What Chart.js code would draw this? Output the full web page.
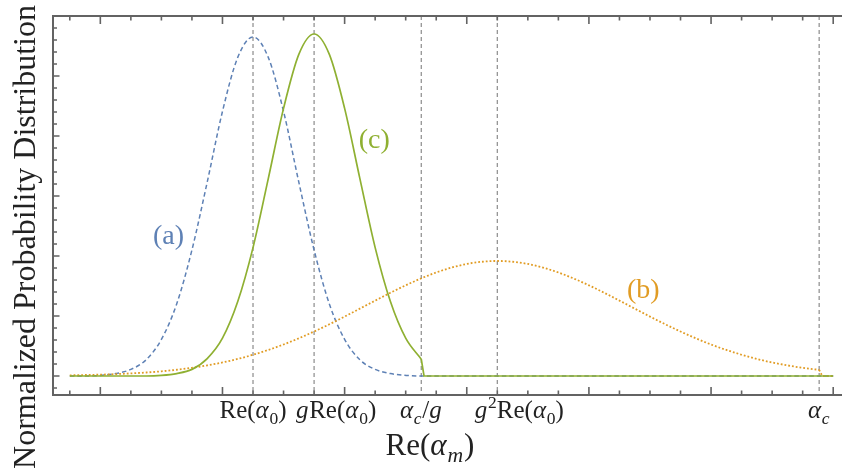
<!DOCTYPE html>
<html>
<head>
<meta charset="utf-8">
<script src="https://cdn.jsdelivr.net/npm/chart.js@4.4.0/dist/chart.umd.min.js"></script>
<style>
  html, body { margin: 0; padding: 0; background: #fff; overflow: hidden; width: 842px; height: 471px; }
  #wrap { width: 852px; height: 471px; }
</style>
</head>
<body>
<div id="wrap"><canvas id="c" width="852" height="471"></canvas></div>
<script>
// (a) distribution, Re(alpha_m) samples and normalized density
const aX = [-5, -4.5, -4, -3.5, -3, -2.5, -2, -1.5, -1, -0.5, 0, 0.5, 1, 1.5, 2, 2.5, 3, 3.5, 4, 4.5, 5, 5.5, 6, 6.5, 20];
const aY = [0, 0, 0.001, 0.004, 0.011, 0.027, 0.061, 0.120, 0.210, 0.323, 0.441, 0.531, 0.565, 0.531, 0.441, 0.323, 0.210, 0.120, 0.061, 0.027, 0.011, 0.004, 0.001, 0, 0];

// (b) distribution, cut off at alpha_c
const bX = [-5, -4.5, -4, -3.5, -3, -2.5, -2, -1.5, -1, -0.5, 0, 0.5, 1, 1.5, 2, 2.5, 3, 3.5, 4, 4.5, 5, 5.5, 6, 6.5, 7, 7.5, 8, 8.5, 9, 9.5, 10, 10.5, 11, 11.5, 12, 12.5, 13, 13.5, 14, 14.5, 15, 15.5, 16, 16.5, 17, 17.5, 18, 18.5, 19, 19.54, 19.64, 20];
const bY = [0.0011, 0.0016, 0.0022, 0.0031, 0.0043, 0.0058, 0.0078, 0.0104, 0.0136, 0.0177, 0.0225, 0.0284, 0.0354, 0.0434, 0.0525, 0.0628, 0.0741, 0.0862, 0.0990, 0.1123, 0.1256, 0.1387, 0.1511, 0.1625, 0.1725, 0.1806, 0.1867, 0.1904, 0.1917, 0.1904, 0.1867, 0.1806, 0.1725, 0.1625, 0.1511, 0.1387, 0.1256, 0.1123, 0.0990, 0.0862, 0.0741, 0.0628, 0.0525, 0.0434, 0.0354, 0.0284, 0.0225, 0.0177, 0.0136, 0.0102, 0, 0];

// (c) distribution, cut off at alpha_c / g
const cX = [-5, -2.5, -2, -1.5, -1, -0.5, 0, 0.5, 1, 1.5, 2, 2.5, 3, 3.5, 4, 4.5, 5, 5.5, 6, 6.51, 6.6, 20];
const cY = [0, 0, 0.001, 0.004, 0.011, 0.029, 0.063, 0.124, 0.214, 0.329, 0.446, 0.536, 0.570, 0.536, 0.446, 0.329, 0.214, 0.124, 0.063, 0.028, 0, 0];

// reference positions on the Re(alpha_m) axis and their labels
const markerValues = [1, 3, 6.51, 9, 19.54];
const markerLabels = [
  [{t: 'Re'}, {t: '('}, {t: 'α', it: true}, {t: '0', sub: true}, {t: ')'}],
  [{t: 'g', it: true}, {t: 'Re'}, {t: '('}, {t: 'α', it: true}, {t: '0', sub: true}, {t: ')'}],
  [{t: 'α', it: true}, {t: 'c', it: true, sub: true}, {t: '/'}, {t: 'g', it: true}],
  [{t: 'g', it: true}, {t: '2', sup: true}, {t: 'Re'}, {t: '('}, {t: 'α', it: true}, {t: '0', sub: true}, {t: ')'}],
  [{t: 'α', it: true}, {t: 'c', it: true, sub: true}]
];

// curve tags
const tagText = ['(a)', '(b)', '(c)'];
const tagX = [-1.77, 13.78, 4.97];
const tagY = [0.232, 0.143, 0.392];

// axis tick values
const xTickMin = -5, xTickMax = 20, xMajorEvery = 4, xMajorFrom = -4;
const yTickMin = -0.02, yTickMax = 0.6, yTickStep = 0.02, yMajorStep = 0.1;

const BLUE = '#5E81B5', ORANGE = '#E19C24', GREEN = '#8FB032';
const AXIS = '#636363';
const SERIF = '"Liberation Serif", "Times New Roman", serif';

const pts = (xs, ys) => xs.map((v, i) => ({x: v, y: ys[i]}));

// a curve is smooth up to its cutoff, then falls straight to zero
function split(xs, ys, cut) {
  const k = xs.indexOf(cut);
  return [pts(xs.slice(0, k + 1), ys.slice(0, k + 1)), pts(xs.slice(k), ys.slice(k))];
}
const [cSmooth, cTail] = split(cX, cY, 6.51);
const [bSmooth, bTail] = split(bX, bY, 19.54);

function drawRich(ctx, parts, x, y, size, align) {
  const segs = parts.map(p => {
    const s = (p.sub || p.sup) ? size * 0.7 : size;
    const f = (p.it ? 'italic ' : '') + s + 'px ' + SERIF;
    ctx.font = f;
    return {t: p.t, f, w: ctx.measureText(p.t).width + (p.it ? size * 0.03 : 0),
            dy: p.sub ? size * 0.22 : (p.sup ? -size * 0.4 : 0)};
  });
  const total = segs.reduce((s, g) => s + g.w, 0);
  let cx = align === 'center' ? x - total / 2 : x;
  ctx.textAlign = 'left';
  ctx.textBaseline = 'alphabetic';
  for (const g of segs) { ctx.font = g.f; ctx.fillText(g.t, cx, y + g.dy); cx += g.w; }
}

const labelShift = [0, 22, 0, 22, 0];

const framePlugin = {
  id: 'frame',
  beforeDatasetsDraw(chart) {
    const {ctx, chartArea: a, scales: {x}} = chart;
    ctx.save();
    ctx.strokeStyle = 'rgba(110,110,110,0.8)';
    ctx.lineWidth = 1.2;
    ctx.setLineDash([4, 3]);
    markerValues.forEach(v => {
      const px = x.getPixelForValue(v);
      ctx.beginPath(); ctx.moveTo(px, a.top); ctx.lineTo(px, a.bottom); ctx.stroke();
    });
    ctx.restore();
  },
  afterDatasetsDraw(chart) {
    const {ctx, chartArea: a, scales: {x, y}} = chart;
    ctx.save();
    ctx.strokeStyle = AXIS;
    ctx.lineWidth = 2;
    ctx.setLineDash([]);
    ctx.beginPath();
    ctx.moveTo(a.right, a.top); ctx.lineTo(a.left, a.top); ctx.lineTo(a.left, a.bottom); ctx.lineTo(a.right, a.bottom);
    ctx.stroke();

    ctx.lineWidth = 1.6;
    ctx.beginPath();
    for (let v = xTickMin; v <= xTickMax; v++) {
      const px = x.getPixelForValue(v);
      const len = ((v - xMajorFrom) % xMajorEvery === 0) ? 8 : 4.5;
      ctx.moveTo(px, a.bottom); ctx.lineTo(px, a.bottom - len);
      ctx.moveTo(px, a.top); ctx.lineTo(px, a.top + len);
    }
    const n = Math.round((yTickMax - yTickMin) / yTickStep);
    for (let i = 0; i <= n; i++) {
      const v = yTickMin + i * yTickStep;
      const py = y.getPixelForValue(v);
      const r = v / yMajorStep;
      const len = Math.abs(r - Math.round(r)) < 1e-6 ? 6.5 : 4;
      ctx.moveTo(a.left, py); ctx.lineTo(a.left + len, py);
    }
    ctx.stroke();

    // reference labels under the axis
    ctx.fillStyle = '#222';
    markerValues.forEach((v, i) => {
      drawRich(ctx, markerLabels[i], x.getPixelForValue(v) + labelShift[i], a.bottom + 23, 25, 'center');
    });

    // axis titles
    drawRich(ctx, [{t: 'Re'}, {t: '('}, {t: 'α', it: true}, {t: 'm', it: true, sub: true}, {t: ')'}], 430, 455, 31, 'center');
    ctx.save();
    ctx.translate(35, 237);
    ctx.rotate(-Math.PI / 2);
    ctx.font = '32px ' + SERIF;
    ctx.textAlign = 'center';
    ctx.textBaseline = 'alphabetic';
    ctx.fillText('Normalized Probability Distribution', 0, 0);
    ctx.restore();

    // curve tags
    const tagColors = [BLUE, ORANGE, GREEN];
    ctx.font = '28px ' + SERIF;
    ctx.textAlign = 'center';
    ctx.textBaseline = 'middle';
    tagText.forEach((t, i) => {
      ctx.fillStyle = tagColors[i];
      ctx.fillText(t, x.getPixelForValue(tagX[i]), y.getPixelForValue(tagY[i]));
    });
    ctx.restore();
  }
};

const greenStyle = {borderColor: GREEN, borderWidth: 1.7, pointRadius: 0, fill: false};
const orangeStyle = {borderColor: ORANGE, borderWidth: 1.8, borderDash: [1.8, 2], pointRadius: 0, fill: false};

new Chart(document.getElementById('c'), {
  type: 'line',
  data: {
    datasets: [
      Object.assign({label: '(c)', data: cSmooth, cubicInterpolationMode: 'monotone'}, greenStyle),
      Object.assign({label: '(c) cutoff', data: cTail, tension: 0}, greenStyle),
      Object.assign({label: '(b)', data: bSmooth, cubicInterpolationMode: 'monotone'}, orangeStyle),
      Object.assign({label: '(b) cutoff', data: bTail, tension: 0}, orangeStyle),
      {label: '(a)', data: pts(aX, aY), borderColor: BLUE, borderWidth: 1.5, borderDash: [4.5, 3], pointRadius: 0, fill: false, cubicInterpolationMode: 'monotone'}
    ]
  },
  options: {
    responsive: false,
    animation: false,
    devicePixelRatio: 1,
    layout: {padding: {left: 53, top: 16, right: 2, bottom: 76}},
    plugins: {legend: {display: false}, tooltip: {enabled: false}},
    scales: {
      x: {type: 'linear', min: -5.55, max: 20.55, display: false},
      y: {type: 'linear', min: -0.0317, max: 0.6, display: false}
    }
  },
  plugins: [framePlugin]
});
</script>
</body>
</html>
